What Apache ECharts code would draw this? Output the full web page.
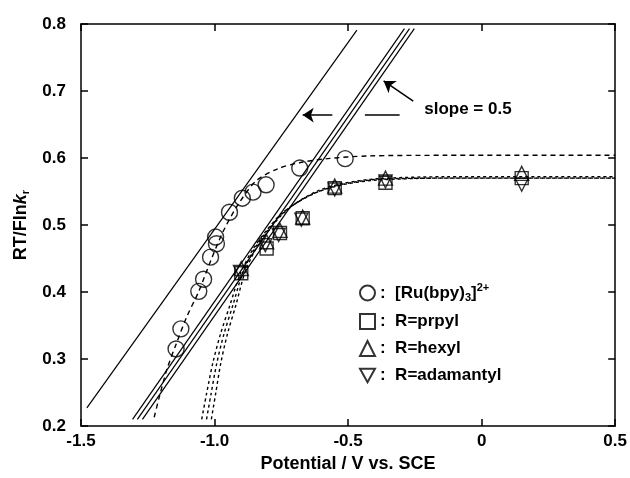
<!DOCTYPE html>
<html>
<head>
<meta charset="utf-8">
<script src="https://cdn.jsdelivr.net/npm/echarts@6/dist/echarts.min.js"></script>
<style>html,body{margin:0;padding:0;background:#fff}#c{width:630px;height:478px}</style>
</head>
<body>
<div id="c"></div>
<script>
// ---- data ----
var xTicks = ['-1.5', '-1.0', '-0.5', '0', '0.5'];
var yTicks = ['0.2', '0.3', '0.4', '0.5', '0.6', '0.7', '0.8'];
var seriesNames = ['[Ru(bpy)3]2+', 'R=prpyl', 'R=hexyl', 'R=adamantyl'];

var ruPoints = [[-1.144,0.315],[-1.126,0.345],[-1.059,0.401],[-1.041,0.419],[-1.015,0.452],[-0.993,0.472],[-0.996,0.482],[-0.944,0.519],[-0.896,0.540],[-0.856,0.549],[-0.807,0.560],[-0.681,0.585],[-0.511,0.599]];
var prpylPoints = [[-0.900,0.428],[-0.805,0.465],[-0.755,0.488],[-0.670,0.510],[-0.550,0.555],[-0.360,0.563],[0.150,0.570]];
var hexylPoints = [[-0.900,0.435],[-0.805,0.475],[-0.755,0.492],[-0.670,0.512],[-0.550,0.558],[-0.360,0.570],[0.150,0.577]];
var adamantylPoints = [[-0.905,0.430],[-0.810,0.470],[-0.760,0.485],[-0.675,0.508],[-0.550,0.553],[-0.360,0.565],[0.150,0.560]];

var ruCurve = [[-1.226,0.213],[-1.207,0.243],[-1.178,0.285],[-1.144,0.322],[-1.104,0.363],[-1.059,0.401],[-1.015,0.446],[-0.967,0.491],[-0.911,0.531],[-0.844,0.566],[-0.763,0.584],[-0.681,0.593],[-0.578,0.599],[-0.430,0.603],[-0.133,0.604],[0.5,0.604]];
var prpylCurve = [[-1.048,0.210],[-1.030,0.248],[-1.007,0.293],[-0.978,0.337],[-0.941,0.382],[-0.904,0.427],[-0.856,0.464],[-0.807,0.491],[-0.752,0.516],[-0.689,0.534],[-0.615,0.549],[-0.522,0.560],[-0.393,0.567],[-0.133,0.570],[0.5,0.570]];
var hexylCurve = [[-1.030,0.210],[-1.013,0.248],[-0.992,0.293],[-0.965,0.337],[-0.930,0.382],[-0.896,0.427],[-0.851,0.464],[-0.803,0.491],[-0.749,0.516],[-0.687,0.535],[-0.613,0.551],[-0.520,0.562],[-0.393,0.569],[-0.133,0.572],[0.5,0.572]];
var adamantylCurve = [[-1.012,0.210],[-0.996,0.248],[-0.977,0.293],[-0.952,0.337],[-0.919,0.382],[-0.888,0.427],[-0.846,0.464],[-0.799,0.491],[-0.746,0.516],[-0.685,0.535],[-0.611,0.550],[-0.518,0.561],[-0.393,0.568],[-0.133,0.570],[0.5,0.570]];

var ruLine = [[-1.478,0.227],[-0.467,0.791]];
var prpylLine = [[-1.307,0.210],[-0.289,0.793]];
var hexylLine = [[-1.289,0.210],[-0.270,0.793]];
var adamantylLine = [[-1.270,0.210],[-0.252,0.793]];

var arrowLeft = [[-0.559,0.664],[-0.670,0.664]];
var dashSeg = [[-0.437,0.664],[-0.307,0.664]];
var arrowUp = [[-0.256,0.685],[-0.367,0.715]];
var slopeText = 'slope = 0.5';

// ---- chart ----
var FONT = 'Liberation Sans, Arial, sans-serif';
var chart = echarts.init(document.getElementById('c'), null, {renderer: 'canvas'});
var blk = '#000';
var markerStyle = {color: 'rgba(0,0,0,0)', borderColor: blk, borderWidth: 1.4};

function solidLine(d) {
  return {type: 'line', data: d, symbol: 'none', silent: true, z: 2,
    lineStyle: {color: blk, width: 1.2}, animation: false};
}
function dashCurve(d, dash) {
  return {type: 'line', data: d, symbol: 'none', smooth: 0.3, silent: true, z: 2,
    lineStyle: {color: blk, width: 1.4, type: dash}, animation: false};
}
function scatter(name, d, sym, size) {
  return {type: 'scatter', name: name, data: d, symbol: sym, symbolSize: size, z: 5,
    itemStyle: markerStyle, animation: false};
}
var invTri = 'path://M0,0 L10,0 L5,9 Z';
var axLine = {onZero: false, lineStyle: {color: blk, width: 1.5}};
var axTick = {inside: true, length: 7, lineStyle: {color: blk, width: 1.5}};

var option = {
  backgroundColor: '#fff',
  animation: false,
  grid: {left: 81, right: 9, top: 24, bottom: 51},
  textStyle: {fontFamily: FONT},
  legend: {
    orient: 'vertical', left: 354, top: 277, itemGap: 10, itemWidth: 15, itemHeight: 15,
    data: seriesNames,
    formatter: function (n) {
      if (n === seriesNames[0]) return ':  [Ru(bpy){sub|3}]{sup|2+}';
      return ':  ' + n;
    },
    textStyle: {fontFamily: FONT, fontWeight: 'bold', fontSize: 17, color: blk,
      rich: {
        sub: {fontFamily: FONT, fontWeight: 'bold', fontSize: 11, color: blk, padding: [9, 0, 0, 0]},
        sup: {fontFamily: FONT, fontWeight: 'bold', fontSize: 11, color: blk, padding: [0, 0, 11, 0]}
      }}
  },
  xAxis: [{
    type: 'value', min: -1.5, max: 0.5, interval: 0.5, position: 'bottom',
    name: 'Potential / V vs. SCE', nameLocation: 'middle', nameGap: 29,
    nameTextStyle: {fontFamily: FONT, fontWeight: 'bold', fontSize: 18, color: blk},
    axisLine: axLine, axisTick: axTick,
    axisLabel: {fontFamily: FONT, fontWeight: 'bold', fontSize: 17, color: blk, margin: 7,
      formatter: function (v) { return xTicks[Math.round((v + 1.5) / 0.5)]; }},
    splitLine: {show: false}
  }, {
    type: 'value', min: -1.5, max: 0.5, interval: 0.5, position: 'top',
    axisLine: axLine, axisTick: axTick,
    axisLabel: {show: false}, splitLine: {show: false}
  }],
  yAxis: [{
    type: 'value', min: 0.2, max: 0.8, interval: 0.1, position: 'left',
    name: 'RT/Fln{k|k}{r|r}', nameLocation: 'middle', nameGap: 48, nameRotate: 90,
    nameTextStyle: {fontFamily: FONT, fontWeight: 'bold', fontSize: 18, color: blk,
      rich: {
        k: {fontFamily: FONT, fontWeight: 'bold', fontStyle: 'italic', fontSize: 18, color: blk},
        r: {fontFamily: FONT, fontWeight: 'bold', fontSize: 11, color: blk, padding: [9, 0, 0, 0]}
      }},
    axisLine: axLine, axisTick: axTick,
    axisLabel: {fontFamily: FONT, fontWeight: 'bold', fontSize: 17, color: blk, margin: 15,
      formatter: function (v) { return yTicks[Math.round((v - 0.2) / 0.1)]; }},
    splitLine: {show: false}
  }, {
    type: 'value', min: 0.2, max: 0.8, interval: 0.1, position: 'right',
    axisLine: axLine, axisTick: axTick,
    axisLabel: {show: false}, splitLine: {show: false}
  }],
  series: [
    solidLine(ruLine), solidLine(prpylLine), solidLine(hexylLine), solidLine(adamantylLine),
    dashCurve(ruCurve, [5, 4]), dashCurve(prpylCurve, [3, 3]), dashCurve(hexylCurve, [3, 3]), dashCurve(adamantylCurve, [3, 3]),
    scatter(seriesNames[0], ruPoints, 'circle', 16),
    scatter(seriesNames[1], prpylPoints, 'rect', 13),
    scatter(seriesNames[2], hexylPoints, 'triangle', 14),
    scatter(seriesNames[3], adamantylPoints, invTri, 13),
    {
      type: 'line', data: [], silent: true, animation: false,
      markLine: {
        silent: true, animation: false, symbolSize: 11,
        label: {show: false},
        lineStyle: {color: blk, width: 1.5, type: 'solid'},
        data: [
          [{coord: arrowLeft[0], symbol: 'none'}, {coord: arrowLeft[1], symbol: 'arrow'}],
          [{coord: dashSeg[0], symbol: 'none'}, {coord: dashSeg[1], symbol: 'none'}],
          [{coord: arrowUp[0], symbol: 'none'}, {coord: arrowUp[1], symbol: 'arrow'}]
        ]
      },
      markPoint: {
        silent: true, animation: false, symbol: 'circle', symbolSize: 0,
        data: [{coord: [-0.215, 0.672], value: slopeText}],
        label: {show: true, position: 'right', distance: 0, formatter: slopeText,
          fontFamily: FONT, fontWeight: 'bold', fontSize: 17, color: blk}
      }
    }
  ]
};
chart.setOption(option);
</script>
</body>
</html>
